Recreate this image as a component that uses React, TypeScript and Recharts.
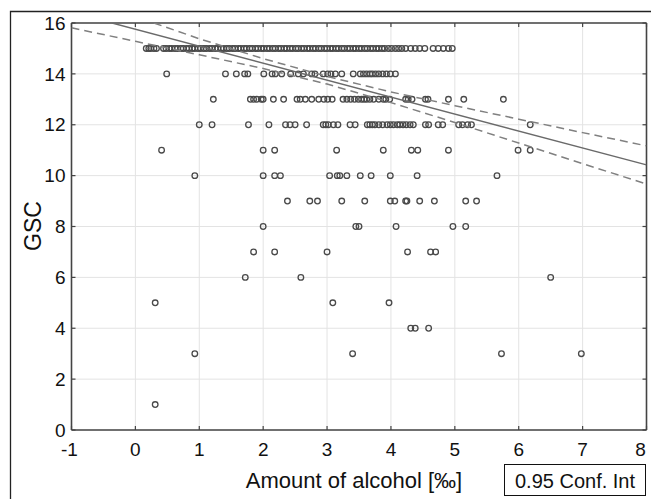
import React from 'react';
import { ScatterChart, Scatter, XAxis, YAxis, CartesianGrid } from 'recharts';

const FONT = '"Liberation Sans", Arial, sans-serif';

const xTicks = [-1, 0, 1, 2, 3, 4, 5, 6, 7, 8];
const yTicks = [0, 2, 4, 6, 8, 10, 12, 14, 16];

// alcohol values [‰] for each GSC score
const gsc15 = [
  0.17, 0.21, 0.24, 0.29, 0.33, 0.44, 0.48, 0.53, 0.57, 0.62, 0.66, 0.71, 0.75, 0.8, 0.84,
  0.89, 0.93, 0.98, 1.02, 1.07, 1.11, 1.16, 1.2, 1.25, 1.29, 1.34, 1.38, 1.43, 1.47, 1.52,
  1.56, 1.61, 1.65, 1.7, 1.74, 1.79, 1.83, 1.88, 1.92, 1.97, 2.01, 2.06, 2.1, 2.15, 2.19,
  2.24, 2.28, 2.33, 2.37, 2.42, 2.46, 2.51, 2.55, 2.6, 2.64, 2.69, 2.73, 2.78, 2.82, 2.87,
  2.91, 2.96, 3.0, 3.05, 3.09, 3.14, 3.18, 3.23, 3.27, 3.32, 3.36, 3.41, 3.45, 3.5, 3.54,
  3.59, 3.63, 3.68, 3.72, 3.77, 3.81, 3.86, 3.9, 3.96, 4.01, 4.07, 4.12, 4.17, 4.23, 4.31,
  4.38, 4.45, 4.53, 4.66, 4.74, 4.82, 4.9, 4.96,
];
const gsc14 = [
  0.49, 1.41, 1.58, 1.71, 1.76, 2.01, 2.14, 2.19, 2.29, 2.43, 2.55, 2.63, 2.76, 2.81, 2.94,
  3.01, 3.06, 3.13, 3.23, 3.41, 3.52, 3.57, 3.62, 3.67, 3.71, 3.76, 3.81, 3.87, 3.93, 3.99, 4.07,
];
const gsc13 = [
  1.22, 1.8, 1.85, 1.9, 1.97, 2.0, 2.16, 2.32, 2.53, 2.58, 2.66, 2.76, 2.87, 2.95, 3.01, 3.08,
  3.25, 3.31, 3.37, 3.43, 3.49, 3.54, 3.58, 3.62, 3.67, 3.73, 3.81, 3.88, 3.92, 3.98, 4.23,
  4.27, 4.33, 4.54, 4.58, 4.9, 5.14, 5.76,
];
const gsc12 = [
  1.0, 1.2, 1.77, 2.09, 2.35, 2.42, 2.5, 2.68, 2.94, 2.98, 3.02, 3.1, 3.17, 3.36, 3.44, 3.63,
  3.67, 3.71, 3.75, 3.81, 3.87, 3.94, 3.99, 4.04, 4.1, 4.14, 4.19, 4.24, 4.3, 4.35, 4.54,
  4.59, 4.74, 4.81, 5.06, 5.12, 5.2, 5.26, 6.18,
];
const gsc11 = [0.41, 2.0, 2.18, 3.15, 3.88, 4.32, 4.42, 4.9, 5.99, 6.18];
const gsc10 = [0.93, 2.0, 2.18, 2.27, 3.04, 3.16, 3.2, 3.31, 3.52, 3.69, 3.99, 4.41, 5.66];
const gsc9 = [2.38, 2.73, 2.85, 3.23, 3.59, 3.99, 4.06, 4.23, 4.25, 4.45, 4.68, 5.17, 5.34];
const gsc8 = [2.0, 3.45, 3.5, 4.08, 4.97, 5.17];
const gsc7 = [1.85, 2.18, 3.0, 4.26, 4.62, 4.7];
const gsc6 = [1.72, 2.59, 6.5];
const gsc5 = [0.31, 3.09, 3.97];
const gsc4 = [4.31, 4.38, 4.59];
const gsc3 = [0.93, 3.4, 5.73, 6.98];
const gsc1 = [0.31];

const rows: [number, number[]][] = [
  [15, gsc15], [14, gsc14], [13, gsc13], [12, gsc12], [11, gsc11], [10, gsc10], [9, gsc9],
  [8, gsc8], [7, gsc7], [6, gsc6], [5, gsc5], [4, gsc4], [3, gsc3], [1, gsc1],
];
const points = rows.flatMap(([y, xs]) => xs.map((x) => ({ x, y })));

// regression line and 0.95 confidence band
const fitLine = [{ x: -0.365, y: 16 }, { x: 8, y: 10.42 }];
const upperBand = [
  { x: 0.29, y: 16 }, { x: 1, y: 15.38 }, { x: 2, y: 14.6 }, { x: 3, y: 13.9 }, { x: 4, y: 13.29 },
  { x: 5, y: 12.75 }, { x: 6, y: 12.22 }, { x: 7, y: 11.69 }, { x: 8, y: 11.17 },
];
const lowerBand = [
  { x: -1, y: 15.81 }, { x: 0, y: 15.28 }, { x: 1, y: 14.75 }, { x: 2, y: 14.21 }, { x: 3, y: 13.6 },
  { x: 4, y: 12.87 }, { x: 5, y: 12.09 }, { x: 6, y: 11.28 }, { x: 7, y: 10.47 }, { x: 8, y: 9.67 },
];

const Ring = (p: any) => (
  <circle cx={p.cx} cy={p.cy} r={2.8} fill="none" stroke="#4a4a4a" strokeWidth={1.3} />
);
const NoDot = () => <g />;

const XTick = (props: any) => {
  const { x, y, payload } = props;
  const dx = payload.value === 8 ? -6 : payload.value === -1 ? -2 : 0;
  return (
    <text x={x + dx} y={y} dy="0.71em" textAnchor="middle" fontSize={19} fill="#111" fontFamily={FONT}>
      {payload.value}
    </text>
  );
};

const YTick = (props: any) => {
  const { x, y, payload } = props;
  return (
    <text x={x} y={y} dy="0.355em" textAnchor="end" fontSize={19} fill="#111" fontFamily={FONT}>
      {payload.value}
    </text>
  );
};

const frame = { stroke: '#444', strokeWidth: 1.6 };
const inTick = { stroke: '#444', strokeWidth: 1.2 };
const bandLine = { stroke: '#808080', strokeWidth: 1.5, strokeDasharray: '8 5' };

export default function App() {
  return (
    <div style={{ position: 'absolute', left: 0, top: 0, width: 651, height: 499, background: '#fff' }}>
      <ScatterChart width={651} height={499} margin={{ top: 23, right: 4.5, left: 11.5, bottom: 39 }}>
        <CartesianGrid stroke="#e3e3e3" strokeWidth={1} />
        <XAxis
          type="number"
          dataKey="x"
          domain={[-1, 8]}
          ticks={xTicks}
          allowDataOverflow
          axisLine={frame}
          tickLine={false}
          tickSize={0}
          tickMargin={13}
          height={30}
          tick={XTick}
        />
        <XAxis
          xAxisId="bIn"
          type="number"
          dataKey="x"
          domain={[-1, 8]}
          ticks={xTicks}
          allowDataOverflow
          mirror
          axisLine={false}
          tickLine={inTick}
          tickSize={4}
          tick={NoDot}
        />
        <XAxis
          xAxisId="tIn"
          orientation="top"
          type="number"
          dataKey="x"
          domain={[-1, 8]}
          ticks={xTicks}
          allowDataOverflow
          mirror
          axisLine={frame}
          tickLine={inTick}
          tickSize={4}
          tick={NoDot}
        />
        <YAxis
          type="number"
          dataKey="y"
          domain={[0, 16]}
          ticks={yTicks}
          allowDataOverflow
          axisLine={frame}
          tickLine={false}
          tickSize={0}
          tickMargin={6}
          width={60}
          tick={YTick}
        />
        <YAxis
          yAxisId="lIn"
          type="number"
          dataKey="y"
          domain={[0, 16]}
          ticks={yTicks}
          allowDataOverflow
          mirror
          axisLine={false}
          tickLine={inTick}
          tickSize={4}
          tick={NoDot}
        />
        <YAxis
          yAxisId="rIn"
          orientation="right"
          type="number"
          dataKey="y"
          domain={[0, 16]}
          ticks={yTicks}
          allowDataOverflow
          mirror
          axisLine={frame}
          tickLine={inTick}
          tickSize={4}
          tick={NoDot}
        />
        <Scatter data={points} shape={Ring} isAnimationActive={false} />
        <Scatter
          data={upperBand}
          xAxisId="tIn"
          yAxisId="rIn"
          shape={NoDot}
          line={bandLine}
          isAnimationActive={false}
        />
        <Scatter
          data={lowerBand}
          xAxisId="bIn"
          yAxisId="lIn"
          shape={NoDot}
          line={bandLine}
          isAnimationActive={false}
        />
        <Scatter
          data={fitLine}
          shape={NoDot}
          line={{ stroke: '#6a6a6a', strokeWidth: 1.4 }}
          isAnimationActive={false}
        />
      </ScatterChart>
      <svg
        width={651}
        height={499}
        style={{ position: 'absolute', left: 0, top: 0, pointerEvents: 'none' }}
        fontFamily={FONT}
      >
        <path d="M10.5,499 L10.5,11.5 L651,11.5" fill="none" stroke="#222" strokeWidth={1.3} />
        <text x={354} y={488} textAnchor="middle" fontSize={22} fill="#111">
          Amount of alcohol [‰]
        </text>
        <text transform="translate(41,226) rotate(-90)" textAnchor="middle" fontSize={23} fill="#111">
          GSC
        </text>
        <rect x={504.5} y={464.5} width={141} height={31} fill="#fff" stroke="#111" strokeWidth={1} />
        <text x={575} y={488} textAnchor="middle" fontSize={20} fill="#111">
          0.95 Conf. Int
        </text>
      </svg>
    </div>
  );
}
